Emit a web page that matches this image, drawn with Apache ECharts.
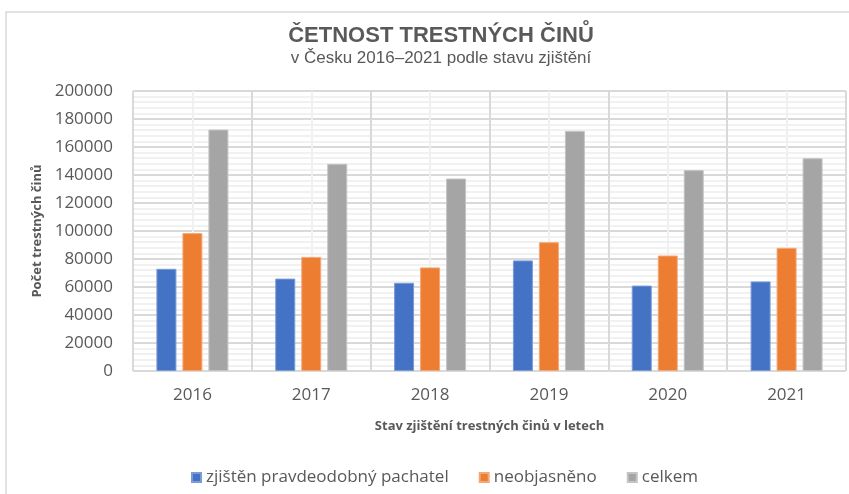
<!DOCTYPE html>
<html>
<head>
<meta charset="utf-8">
<script src="https://cdn.jsdelivr.net/npm/echarts@6/dist/echarts.min.js"></script>
<style>html,body{margin:0;padding:0;background:#fff}#c{width:849px;height:494px}</style>
</head>
<body>
<div id="c"></div>
<script>
const categories = ['2016', '2017', '2018', '2019', '2020', '2021'];
const seriesNames = ['zjištěn pravdeodobný pachatel', 'neobjasněno', 'celkem'];
const pachatel = [73000, 66000, 63000, 79000, 61000, 64000];
const neobjasneno = [98500, 81500, 74000, 92000, 82500, 88000];
const celkem = [172500, 148000, 137500, 171500, 143500, 152000];
const yTicks = [0, 20000, 40000, 60000, 80000, 100000, 120000, 140000, 160000, 180000, 200000];

const colors = ['#4472C4', '#ED7D31', '#A5A5A5'];
const borders = ['#7A9BD6', '#F4A878', '#C4C4C4'];
const txt = '#595959';

const chart = echarts.init(document.getElementById('c'));
const values = [pachatel, neobjasneno, celkem];
chart.setOption({
  animation: false,
  backgroundColor: '#fff',
  graphic: [{
    type: 'rect', shape: {x: 6, y: 12, width: 900, height: 600},
    style: {fill: 'none', stroke: '#D9D9D9', lineWidth: 1.5}, silent: true, z: -1
  }],
  title: {
    text: 'ČETNOST TRESTNÝCH ČINŮ',
    subtext: 'v Česku 2016–2021 podle stavu zjištění',
    left: 436, top: 20, textAlign: 'center', itemGap: 3,
    textStyle: {fontFamily: 'Liberation Sans', fontWeight: 'bold', fontSize: 22, color: txt},
    subtextStyle: {fontFamily: 'Liberation Sans', fontSize: 17, color: txt}
  },
  legend: {
    bottom: 3, left: 186, itemWidth: 9, itemHeight: 9, itemGap: 30, icon: 'rect',
    textStyle: {fontFamily: 'Open Sans', fontSize: 17, color: txt},
    data: seriesNames
  },
  grid: {left: 133, right: 3, top: 91, bottom: 123, containLabel: false},
  xAxis: [{
    type: 'category', data: categories,
    axisLine: {show: false}, axisTick: {show: false}, splitLine: {show: false},
    axisLabel: {margin: 16, fontFamily: 'Open Sans', fontSize: 17, color: txt},
    name: 'Stav zjištění trestných činů v letech', nameLocation: 'middle', nameGap: 49,
    nameTextStyle: {fontFamily: 'Open Sans', fontWeight: 'bold', fontSize: 13, color: txt}
  }, {
    type: 'value', min: 0, max: 6, interval: 1, position: 'bottom',
    axisLine: {show: false}, axisTick: {show: false}, axisLabel: {show: false},
    splitLine: {show: true, lineStyle: {color: '#D9D9D9', width: 2}},
    minorTick: {show: false, splitNumber: 2},
    minorSplitLine: {show: true, lineStyle: {color: '#F0F0F0', width: 2}}
  }],
  yAxis: {
    type: 'value', min: 0, max: 200000, interval: 20000,
    axisLine: {show: false}, axisTick: {show: false},
    axisLabel: {margin: 20, fontFamily: 'Open Sans', fontSize: 17, color: txt,
      formatter: v => yTicks.includes(v) ? String(v) : ''},
    splitLine: {show: true, lineStyle: {color: '#D9D9D9', width: 2}},
    minorTick: {show: false, splitNumber: 5},
    minorSplitLine: {show: true, lineStyle: {color: '#EDEDED', width: 1.5}},
    name: 'Počet trestných činů', nameLocation: 'middle', nameGap: 86, nameRotate: 90,
    nameTextStyle: {fontFamily: 'Open Sans', fontWeight: 'bold', fontSize: 13, color: txt}
  },
  series: seriesNames.map((n, i) => ({
    name: n, type: 'bar', xAxisIndex: 0, data: values[i],
    barWidth: 20, barGap: '30%',
    itemStyle: {color: colors[i], borderColor: borders[i], borderWidth: 1}
  }))
});
</script>
</body>
</html>
